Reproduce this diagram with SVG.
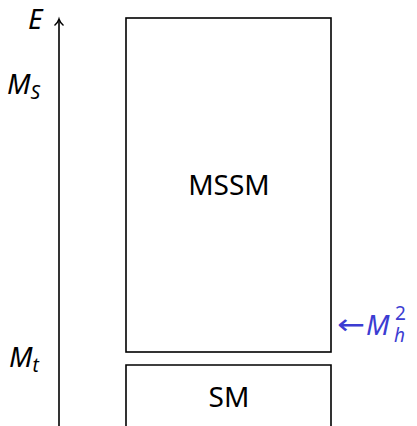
<svg xmlns="http://www.w3.org/2000/svg" width="417" height="426" viewBox="0 0 417 426">
<style>
.box{fill:none;stroke:#000;stroke-width:1.6}
.lbl{font-family:"Noto Sans","Open Sans",sans-serif;font-size:28px;fill:#000}
.math{font-family:"Noto Sans","Open Sans",sans-serif;font-style:italic;font-size:28px;fill:#000}
.sub{font-size:19px}
.blue{fill:#3c3cd2}
</style>
<rect width="417" height="426" fill="#fff"/>
<g id="axis">
<line x1="59" y1="426" x2="59" y2="20" stroke="#000" stroke-width="1.6"/>
<path d="M54.5 25.5 Q58 22.5 59 19 Q60 22.5 63.5 25.5" fill="none" stroke="#000" stroke-width="1.4"/>
<text class="math" x="28" y="29" font-size="26">E</text>
<text class="math" x="7" y="94">M<tspan class="sub" dy="5">S</tspan></text>
<text class="math" x="9" y="367">M<tspan class="sub" dy="5">t</tspan></text>
</g>
<g id="mssm">
<rect class="box" x="126" y="18" width="205" height="334"/>
<text class="lbl" x="229" y="195" text-anchor="middle">MSSM</text>
</g>
<g id="sm">
<path class="box" d="M126 430 V365 H331 V430"/>
<text class="lbl" x="229" y="407" text-anchor="middle">SM</text>
</g>
<g id="mh">
<text class="blue" font-family="DejaVu Sans,sans-serif" font-size="28" x="337" y="334" textLength="28" lengthAdjust="spacingAndGlyphs">←</text>
<text class="math blue" x="366" y="335">M</text>
<text class="blue sub" font-family="Noto Sans,sans-serif" x="395" y="320">2</text>
<text class="math blue sub" x="394" y="342">h</text>
</g>
<g id="connectors"></g>
</svg>
